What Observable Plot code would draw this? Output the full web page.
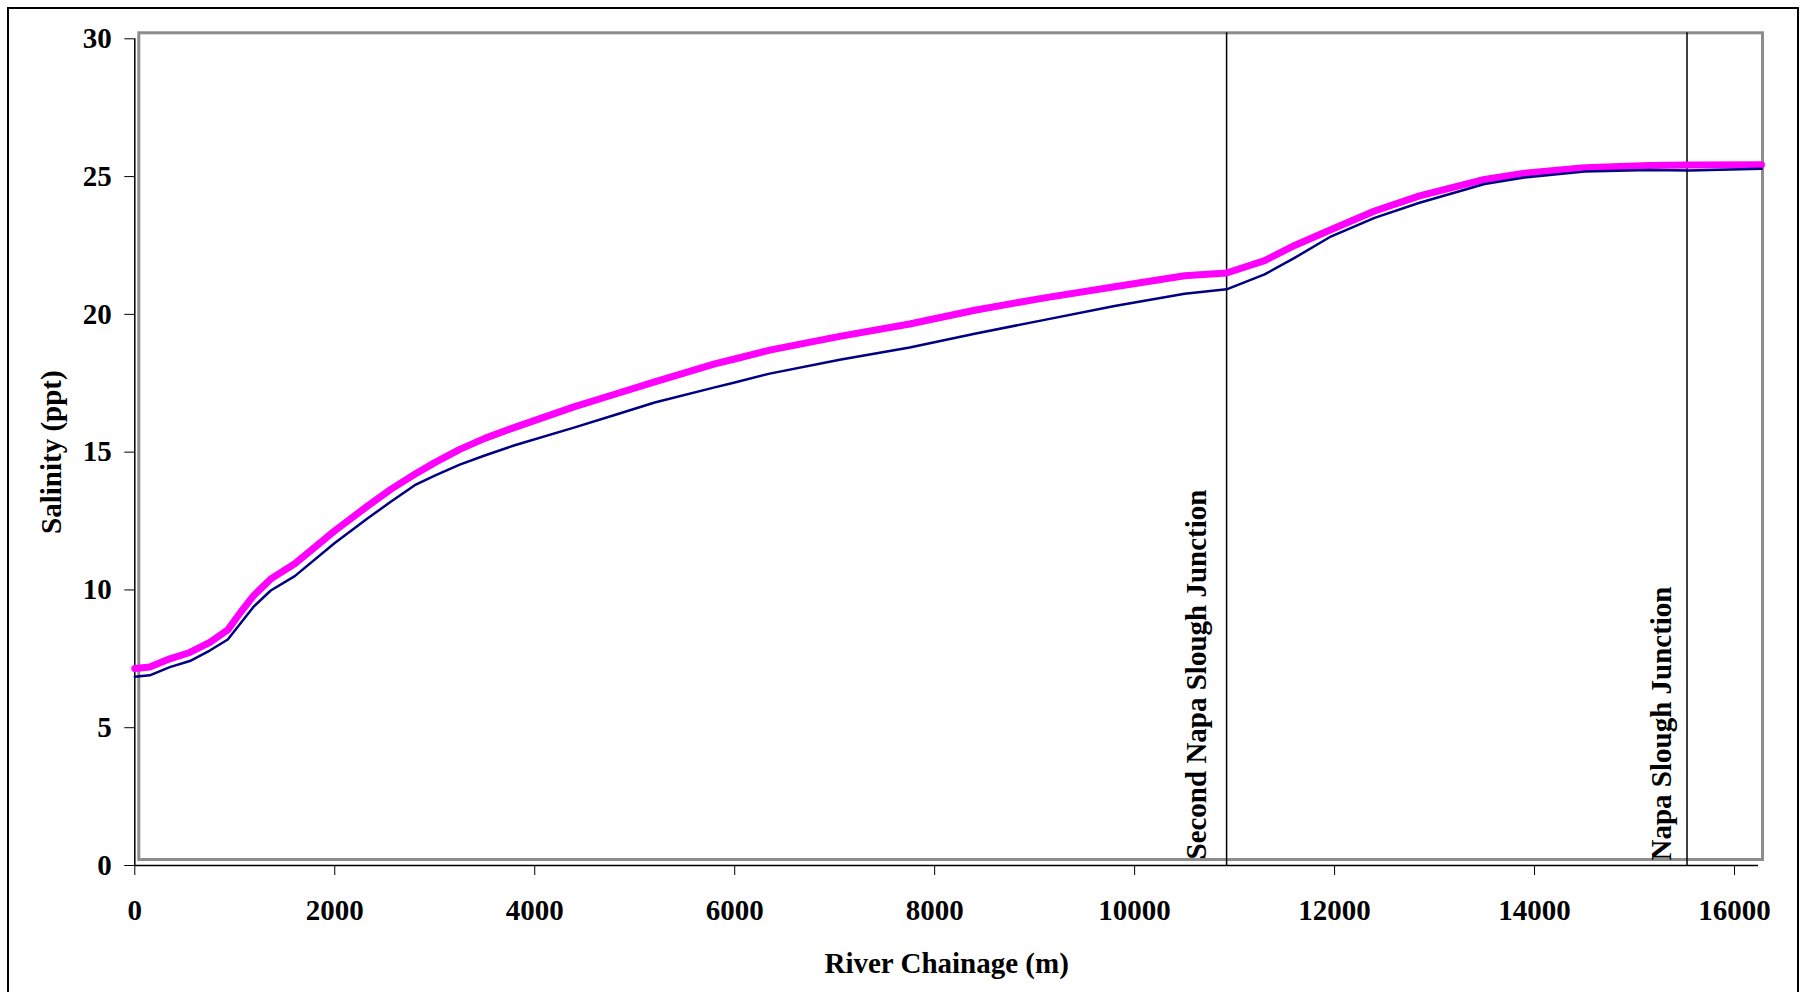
<!DOCTYPE html>
<html>
<head>
<meta charset="utf-8">
<script src="https://cdn.jsdelivr.net/npm/d3@7"></script>
<script src="https://cdn.jsdelivr.net/npm/@observablehq/plot@0.6"></script>
<style>
  html, body { margin: 0; padding: 0; background: #fff; overflow: hidden; }
  #wrap { position: relative; width: 1801px; height: 992px; }
  #border { position: absolute; left: 7px; top: 7px; width: 1792px; height: 992px; box-sizing: border-box; border: 2px solid #000; pointer-events: none; }
</style>
</head>
<body>
<div id="wrap"><div id="chart"></div><div id="border"></div></div>
<script>
// River chainage (m) of sampled points
const chainage = [0, 150, 350, 550, 750, 930, 1060, 1190, 1360, 1600, 2000, 2330, 2560, 2800, 3000, 3250, 3500, 3800, 4400, 4800, 5200, 5800, 6000, 6350, 7050, 7750, 8400, 9100, 9800, 10500, 10920, 11300, 11600, 11950, 12400, 12850, 13500, 13900, 14500, 15150, 15550, 16270];
// Salinity (ppt), magenta (thick) series
const salinityMagenta = [7.15, 7.2, 7.5, 7.73, 8.1, 8.55, 9.2, 9.8, 10.4, 10.95, 12.15, 13.05, 13.65, 14.2, 14.62, 15.1, 15.5, 15.9, 16.65, 17.1, 17.55, 18.2, 18.38, 18.7, 19.2, 19.65, 20.15, 20.6, 21.0, 21.4, 21.5, 21.95, 22.5, 23.05, 23.75, 24.3, 24.9, 25.12, 25.32, 25.4, 25.42, 25.43];
// Salinity (ppt), navy (thin) series
const salinityNavy = [6.85, 6.9, 7.2, 7.42, 7.8, 8.2, 8.8, 9.4, 9.98, 10.5, 11.7, 12.6, 13.2, 13.8, 14.15, 14.55, 14.88, 15.25, 15.9, 16.35, 16.8, 17.35, 17.53, 17.85, 18.35, 18.8, 19.3, 19.8, 20.3, 20.75, 20.91, 21.45, 22.05, 22.8, 23.5, 24.05, 24.73, 24.97, 25.18, 25.24, 25.22, 25.28];
// Junction markers
const junctionNames = ["Second Napa Slough Junction", "Napa Slough Junction"];
const junctionChainage = [10920, 15525];
// Axis ticks
const xTicks = [0, 2000, 4000, 6000, 8000, 10000, 12000, 14000, 16000];
const yTicks = [0, 5, 10, 15, 20, 25, 30];

const magentaRows = chainage.map((c, i) => ({chainage: c, salinity: salinityMagenta[i]}));
const navyRows = chainage.map((c, i) => ({chainage: c, salinity: salinityNavy[i]}));
const junctions = junctionNames.map((n, i) => ({name: n, chainage: junctionChainage[i]}));

const chart = Plot.plot({
  width: 1801,
  height: 992,
  marginLeft: 134.3,
  marginRight: 43,
  marginTop: 38.3,
  marginBottom: 127,
  style: {
    fontFamily: "'Liberation Serif', 'Times New Roman', serif",
    fontSize: "29px",
    fontWeight: "bold",
    color: "#000",
    background: "#fff"
  },
  x: {domain: [0, 16240], label: null},
  y: {domain: [0, 30], label: null},
  marks: [
    Plot.frame({stroke: "#8c8c8c", strokeWidth: 3, dx: 4, dy: -6}),
    Plot.ruleX([0], {stroke: "#000", strokeWidth: 1.5}),
    Plot.ruleY([0], {stroke: "#000", strokeWidth: 1.5}),
    Plot.axisY({ticks: yTicks, tickSize: 10, tickPadding: 13, tickFormat: d => String(d), label: null, stroke: "#000"}),
    Plot.axisX({ticks: xTicks, tickSize: 10, tickPadding: 24, tickFormat: d => String(d), label: null, stroke: "#000"}),
    Plot.ruleX(junctions, {x: "chainage", stroke: "#000", strokeWidth: 1.5, insetTop: -6}),
    Plot.text([junctions[0]], {x: "chainage", y: () => 0, text: "name", rotate: -90, textAnchor: "start", lineAnchor: "bottom", dx: -21, dy: -6, fill: "#000"}),
    Plot.text([junctions[1]], {x: "chainage", y: () => 0, text: "name", rotate: -90, textAnchor: "start", lineAnchor: "bottom", dx: -16, dy: -5, fill: "#000"}),
    Plot.line(magentaRows, {x: "chainage", y: "salinity", stroke: "#ff00ff", strokeWidth: 7, strokeLinejoin: "round"}),
    Plot.line(navyRows, {x: "chainage", y: "salinity", stroke: "#000080", strokeWidth: 2.5, strokeLinejoin: "round"}),
    Plot.text(["Salinity (ppt)"], {frameAnchor: "left", rotate: -90, textAnchor: "middle", lineAnchor: "bottom", dx: -74, fill: "#000"}),
    Plot.text(["River Chainage (m)"], {frameAnchor: "bottom", textAnchor: "middle", lineAnchor: "bottom", dy: 107, fill: "#000"})
  ]
});
document.getElementById("chart").appendChild(chart);
</script>
</body>
</html>
